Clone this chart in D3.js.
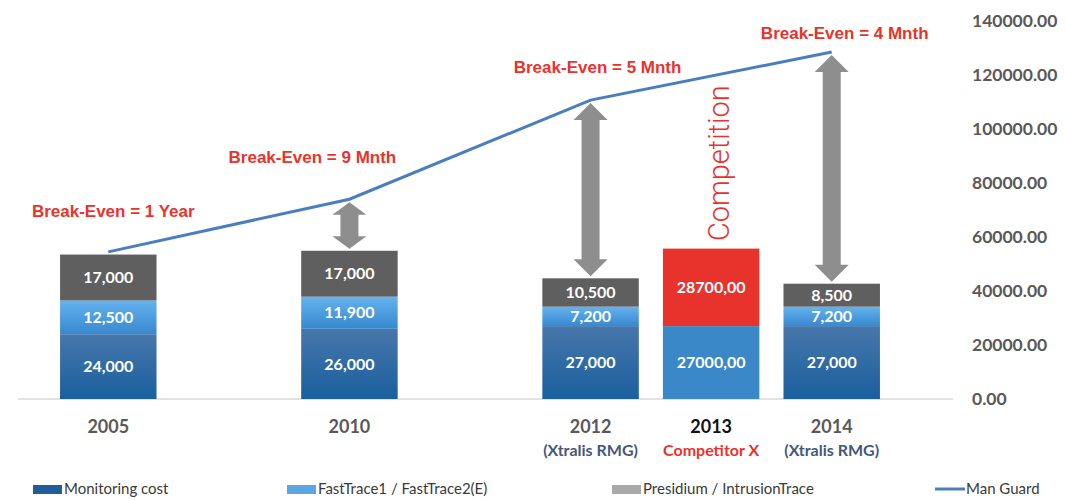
<!DOCTYPE html>
<html>
<head>
<meta charset="utf-8">
<script src="https://cdn.jsdelivr.net/npm/d3@7"></script>
<style>
  body { margin: 0; background: #fff; }
  svg { display: block; }
</style>
</head>
<body>
<svg id="chart"></svg>
<script>
// chart values
const slots = ['2005', 'gap-a', '2010', 'gap-b', '2012', '2013', '2014']
const years = ['2005', '2010', '2012', '2013', '2014']
const subLabels = ['', '', '(Xtralis RMG)', 'Competitor X', '(Xtralis RMG)']
const monitoring = [24000, 26000, 27000, 27000, 27000]
const fastTrace = [12500, 11900, 7200, 0, 7200]
const presidium = [17000, 17000, 10500, 0, 8500]
const competitor = [0, 0, 0, 28700, 0]
const manGuard = [54500, 74000, 110700, null, 128500]
const segLabels = [
  ['24,000', '12,500', '17,000'],
  ['26,000', '11,900', '17,000'],
  ['27,000', '7,200', '10,500'],
  ['27000,00', '', '28700,00'],
  ['27,000', '7,200', '8,500']
]
const breakEven = ['Break-Even = 1 Year', 'Break-Even = 9 Mnth', 'Break-Even = 5 Mnth', null, 'Break-Even = 4 Mnth']
const arrowYears = ['2010', '2012', '2014']
const yTicks = [0, 20000, 40000, 60000, 80000, 100000, 120000, 140000]
const legendItems = ['Monitoring cost', 'FastTrace1 / FastTrace2(E)', 'Presidium / IntrusionTrace', 'Man Guard']

const width = 1065
const height = 500
const red = '#e8332c'

const svg = d3.select('#chart')
  .attr('width', width)
  .attr('height', height)
  .style('font-family', 'Lato, sans-serif')

const x = d3.scaleBand()
  .domain(slots)
  .range([48, 892])
  .paddingInner(0.2)
  .paddingOuter(0.1)

const y = d3.scaleLinear()
  .domain([0, 140000])
  .range([399, 21])

const cx = yr => x(yr) + x.bandwidth() / 2

// gradients
const defs = svg.append('defs')
function grad(id, top, bottom) {
  const g = defs.append('linearGradient')
    .attr('id', id).attr('x1', 0).attr('y1', 0).attr('x2', 0).attr('y2', 1)
  g.append('stop').attr('offset', '0%').attr('stop-color', top)
  g.append('stop').attr('offset', '100%').attr('stop-color', bottom)
}
grad('g-mon', '#4777ab', '#1a5f9e')
grad('g-fast', '#64b2ee', '#3888cf')

// baseline
svg.append('line')
  .attr('x1', 18).attr('x2', 953)
  .attr('y1', y(0)).attr('y2', y(0))
  .attr('stroke', '#d9d9d9').attr('stroke-width', 1.5)

// right axis
const yAxis = svg.append('g')
  .attr('transform', 'translate(972,0)')
  .call(d3.axisRight(y).tickValues(yTicks).tickFormat(d3.format('.2f')).tickSize(0).tickPadding(0))
yAxis.select('.domain').remove()
yAxis.selectAll('text')
  .attr('font-family', 'Lato, sans-serif')
  .attr('font-size', 17.5)
  .attr('font-weight', 'bold')
  .attr('fill', '#595959')

// stacked bars
const rows = years.map((yr, i) => {
  const segs = []
  let base = 0
  const parts = [
    { v: monitoring[i], fill: yr === '2013' ? '#3a88c8' : 'url(#g-mon)', label: segLabels[i][0] },
    { v: fastTrace[i], fill: 'url(#g-fast)', label: segLabels[i][1] },
    { v: presidium[i], fill: '#5f5f5f', label: segLabels[i][2] },
    { v: competitor[i], fill: red, label: segLabels[i][2] }
  ]
  parts.forEach(p => {
    if (p.v > 0) {
      segs.push({ yr, y0: base, y1: base + p.v, fill: p.fill, label: p.label })
      base += p.v
    }
  })
  return segs
}).flat()

const bars = svg.append('g').attr('id', 'bars')
bars.selectAll('rect')
  .data(rows)
  .join('rect')
    .attr('x', d => x(d.yr))
    .attr('width', x.bandwidth())
    .attr('y', d => y(d.y1))
    .attr('height', d => y(d.y0) - y(d.y1))
    .attr('fill', d => d.fill)

bars.selectAll('text')
  .data(rows)
  .join('text')
    .attr('x', d => cx(d.yr))
    .attr('y', d => (y(d.y0) + y(d.y1)) / 2)
    .attr('dy', '0.36em')
    .attr('text-anchor', 'middle')
    .attr('fill', '#fff')
    .attr('font-size', 16)
    .attr('font-weight', 'bold')
    .text(d => d.label)

// double arrows between bar top and man guard line
const arrows = svg.append('g').attr('id', 'arrows')
arrowYears.forEach(yr => {
  const i = years.indexOf(yr)
  const top = y(manGuard[i]) + 3
  const bottom = y(monitoring[i] + fastTrace[i] + presidium[i]) - 2
  const c = cx(yr)
  const hw = 17, sw = 9
  const hh = Math.min(17, (bottom - top) * 0.27)
  const path = d3.path()
  path.moveTo(c, top)
  path.lineTo(c + hw, top + hh)
  path.lineTo(c + sw, top + hh)
  path.lineTo(c + sw, bottom - hh)
  path.lineTo(c + hw, bottom - hh)
  path.lineTo(c, bottom)
  path.lineTo(c - hw, bottom - hh)
  path.lineTo(c - sw, bottom - hh)
  path.lineTo(c - sw, top + hh)
  path.lineTo(c - hw, top + hh)
  path.closePath()
  arrows.append('path').attr('d', path.toString()).attr('fill', '#8e8e8e')
})

// man guard line
const linePts = years.map((yr, i) => ({ yr, v: manGuard[i] })).filter(d => d.v !== null)
svg.append('path')
  .datum(linePts)
  .attr('fill', 'none')
  .attr('stroke', '#4a7ec0')
  .attr('stroke-width', 3)
  .attr('d', d3.line().x(d => cx(d.yr)).y(d => y(d.v)))

// break-even labels (offsets relative to the line point)
const labelShift = { '2005': [5, 15000], '2010': [-37, 15500], '2012': [7, 12300], '2014': [13, 7000] }
svg.append('g').selectAll('text')
  .data(years.map((yr, i) => ({ yr, v: manGuard[i], t: breakEven[i] })).filter(d => d.t))
  .join('text')
    .attr('x', d => cx(d.yr) + labelShift[d.yr][0])
    .attr('y', d => y(d.v + labelShift[d.yr][1]))
    .attr('dy', '0.36em')
    .attr('text-anchor', 'middle')
    .attr('font-family', '"Liberation Sans", Arial, sans-serif')
    .attr('font-weight', 'bold')
    .attr('font-size', 17)
    .attr('fill', red)
    .text(d => d.t)

// "Competition" vertical label
svg.append('text')
  .attr('transform', `translate(${cx('2013') + 18},${y(58500)}) rotate(-90)`)
  .attr('font-family', 'Roboto, sans-serif')
  .attr('font-weight', 300)
  .attr('font-size', 29)
  .attr('fill', red)
  .text('Competition')

// x labels
const xl = svg.append('g')
xl.selectAll('text.year')
  .data(years)
  .join('text')
    .attr('class', 'year')
    .attr('x', d => cx(d))
    .attr('y', 427)
    .attr('dy', '0.36em')
    .attr('text-anchor', 'middle')
    .attr('font-size', 18)
    .attr('font-weight', 'bold')
    .attr('fill', d => d === '2013' ? '#111' : '#595959')
    .text(d => d)
xl.selectAll('text.sub')
  .data(years.map((yr, i) => ({ yr, t: subLabels[i] })).filter(d => d.t))
  .join('text')
    .attr('class', 'sub')
    .attr('x', d => cx(d.yr))
    .attr('y', 450)
    .attr('dy', '0.36em')
    .attr('text-anchor', 'middle')
    .attr('font-size', 16)
    .attr('font-weight', 'bold')
    .attr('fill', d => d.yr === '2013' ? red : '#45587a')
    .text(d => d.t)

// legend
const legendX = [33, 287, 612, 935]
const legendFill = ['#1f5e9a', '#5aa7e4', '#a9a9a9', null]
const lg = svg.append('g')
legendItems.forEach((name, i) => {
  if (legendFill[i]) {
    lg.append('rect')
      .attr('x', legendX[i]).attr('y', 485)
      .attr('width', 29).attr('height', 9)
      .attr('fill', legendFill[i])
  } else {
    lg.append('line')
      .attr('x1', legendX[i]).attr('x2', legendX[i] + 30)
      .attr('y1', 489).attr('y2', 489)
      .attr('stroke', '#4a7ec0').attr('stroke-width', 3)
  }
  lg.append('text')
    .attr('x', legendX[i] + 31)
    .attr('y', 489)
    .attr('dy', '0.36em')
    .attr('font-size', 15)
    .attr('fill', '#3a3a3a')
    .text(name)
})
</script>
</body>
</html>
